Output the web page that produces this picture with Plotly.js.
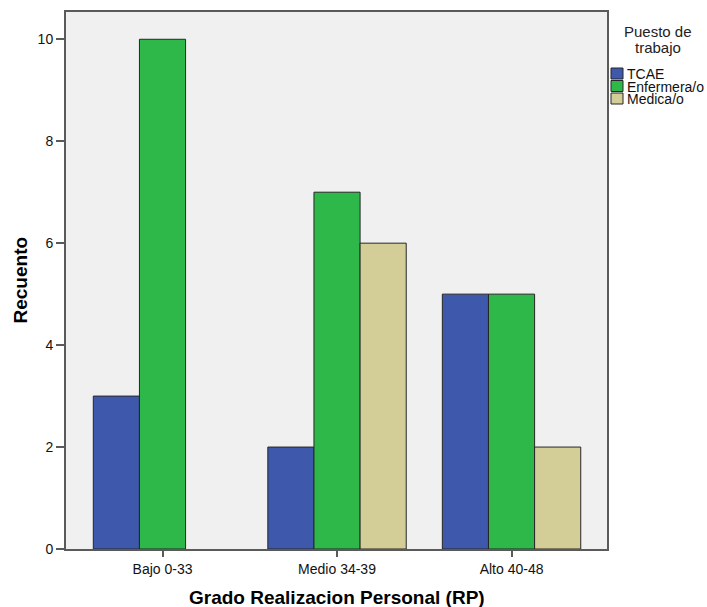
<!DOCTYPE html>
<html>
<head>
<meta charset="utf-8">
<script src="https://cdn.plot.ly/plotly-3.0.1.min.js"></script>
<style>html,body{margin:0;padding:0;background:#fff;}#chart{width:707px;height:607px;}</style>
</head>
<body>
<div id="chart"></div>
<script>
const categories = ["Bajo 0-33", "Medio 34-39", "Alto 40-48"];
const seriesNames = ["TCAE", "Enfermera/o", "Medica/o"];
const tcae = [3, 2, 5];
const enfermera = [10, 7, 5];
const medica = [0, 6, 2];
const seriesColors = ["#3e58ab", "#2fb84a", "#d3ce97"];
const yTicks = [0, 2, 4, 6, 8, 10];
const legendTitleLines = ["Puesto de", "trabajo"];
const xTitle = "Grado Realizacion Personal (RP)";
const yTitle = "Recuento";

const seriesValues = [tcae, enfermera, medica];
const font = "Liberation Sans, Arial, sans-serif";

const traces = seriesValues.map((vals, i) => ({
  type: "bar",
  x: categories,
  y: vals,
  name: seriesNames[i],
  marker: {
    color: seriesColors[i],
    line: {color: "#262626", width: vals.map(v => (v === 0 ? 0 : 1))}
  },
  hoverinfo: "none"
}));

// custom legend (pixel offsets from the plot's top-right corner)
const shapes = [];
const annotations = [];
seriesNames.forEach((n, i) => {
  shapes.push({
    type: "rect", xref: "paper", yref: "paper",
    xsizemode: "pixel", ysizemode: "pixel", xanchor: 1, yanchor: 1,
    x0: 4, x1: 16, y0: -56 - i * 12.5, y1: -67 - i * 12.5,
    fillcolor: seriesColors[i], line: {color: "#262626", width: 1}
  });
  annotations.push({
    xref: "paper", yref: "paper", x: 1, y: 1, xanchor: "left", yanchor: "middle",
    xshift: 18, yshift: -62 - i * 12.5, showarrow: false, text: n,
    font: {family: font, size: 14, color: "#111"}
  });
});
legendTitleLines.forEach((t, i) => {
  annotations.push({
    xref: "paper", yref: "paper", x: 1, y: 1, xanchor: "center", yanchor: "middle",
    xshift: 51, yshift: -19 - i * 16, showarrow: false, text: t,
    font: {family: font, size: 15, color: "#222"}
  });
});
// axis titles
annotations.push({
  xref: "paper", yref: "paper", x: 0.5, y: 0, xanchor: "center", yanchor: "top",
  yshift: -36, showarrow: false, text: xTitle,
  font: {family: font, size: 19, color: "#000", weight: "bold"}
});
annotations.push({
  xref: "paper", yref: "paper", x: 0, y: 0.5, xanchor: "center", yanchor: "middle",
  xshift: -46, showarrow: false, text: yTitle, textangle: -90,
  font: {family: font, size: 19, color: "#000", weight: "bold"}
});

const layout = {
  width: 707, height: 607,
  margin: {l: 66, r: 100, t: 12, b: 58},
  paper_bgcolor: "#ffffff",
  plot_bgcolor: "#f0f0f0",
  barmode: "group",
  bargap: 0.207,
  bargroupgap: 0,
  showlegend: false,
  font: {family: font, size: 14, color: "#111"},
  xaxis: {
    type: "category",
    range: [-0.553, 2.547],
    showgrid: false, zeroline: false,
    showline: true, linecolor: "#5a5a5a", linewidth: 2, mirror: true,
    ticks: "outside", ticklen: 6, tickwidth: 2, tickcolor: "#5a5a5a",
    tickfont: {family: font, size: 14, color: "#111"}
  },
  yaxis: {
    range: [0, 10.535],
    tickvals: yTicks,
    showgrid: false, zeroline: false,
    showline: true, linecolor: "#5a5a5a", linewidth: 2, mirror: true,
    ticks: "outside", ticklen: 8, tickwidth: 2, tickcolor: "#5a5a5a",
    tickfont: {family: font, size: 14, color: "#111"}
  },
  shapes: shapes,
  annotations: annotations
};

Plotly.newPlot("chart", traces, layout, {displayModeBar: false, staticPlot: true});
</script>
</body>
</html>
